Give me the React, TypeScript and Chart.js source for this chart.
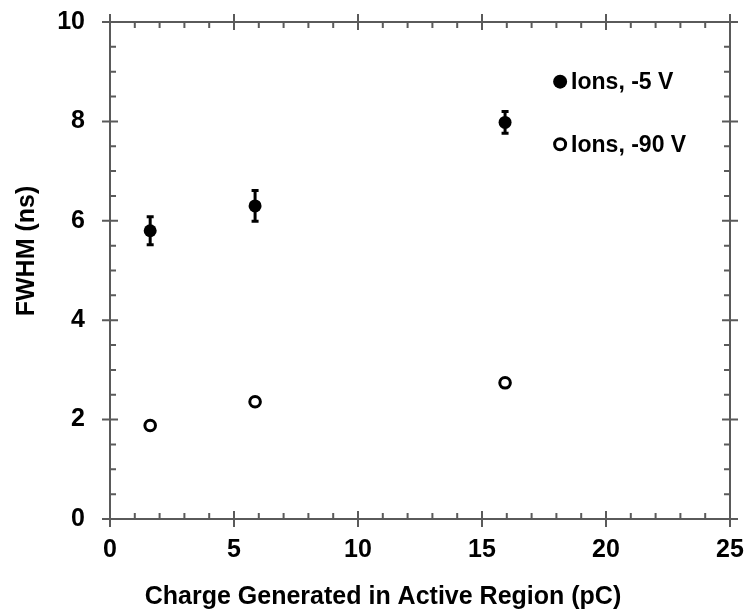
import React, { useEffect, useRef } from "react";
import { Chart, registerables } from "chart.js";

Chart.register(...registerables);

const chargeX = [1.62, 5.85, 15.93];
const fwhmMinus5 = [5.8, 6.3, 7.98];
const fwhmMinus5Err = [0.28, 0.31, 0.22];
const fwhmMinus90 = [1.88, 2.36, 2.74];
const seriesLabels = ["Ions, -5 V", "Ions, -90 V"];
const xTitle = "Charge Generated in Active Region (pC)";
const yTitle = "FWHM (ns)";

const FONT = "'Liberation Sans', Arial, sans-serif";
const AXIS_COLOR = "#5a5a5a";

const framePlugin = {
  id: "frameTicks",
  beforeDatasetsDraw(chart: any) {
    const { ctx, chartArea: a, scales } = chart;
    const xs = scales.x;
    const ys = scales.y;
    ctx.save();
    ctx.strokeStyle = AXIS_COLOR;
    ctx.lineWidth = 2;
    ctx.strokeRect(a.left, a.top, a.right - a.left, a.bottom - a.top);
    ctx.beginPath();
    const MAJ = 8;
    const MIN = 6;
    for (let v = 0; v <= 25; v += 1) {
      const px = xs.getPixelForValue(v);
      if (v % 5 === 0) {
        ctx.moveTo(px, a.bottom - MAJ);
        ctx.lineTo(px, a.bottom + MAJ);
        ctx.moveTo(px, a.top - MAJ);
        ctx.lineTo(px, a.top + MAJ);
      } else {
        ctx.moveTo(px, a.bottom);
        ctx.lineTo(px, a.bottom - MIN);
        ctx.moveTo(px, a.top);
        ctx.lineTo(px, a.top + MIN);
      }
    }
    for (let i = 0; i <= 20; i++) {
      const v = i * 0.5;
      const py = ys.getPixelForValue(v);
      if (i % 4 === 0) {
        ctx.moveTo(a.left - MAJ, py);
        ctx.lineTo(a.left + MAJ, py);
        ctx.moveTo(a.right - MAJ, py);
        ctx.lineTo(a.right + MAJ, py);
      } else {
        ctx.moveTo(a.left, py);
        ctx.lineTo(a.left + MIN, py);
        ctx.moveTo(a.right, py);
        ctx.lineTo(a.right - MIN, py);
      }
    }
    ctx.stroke();

    // error bars
    ctx.strokeStyle = "#000";
    ctx.lineWidth = 3;
    ctx.beginPath();
    chargeX.forEach((x, i) => {
      const px = xs.getPixelForValue(x);
      const top = ys.getPixelForValue(fwhmMinus5[i] + fwhmMinus5Err[i]);
      const bot = ys.getPixelForValue(fwhmMinus5[i] - fwhmMinus5Err[i]);
      ctx.moveTo(px, top);
      ctx.lineTo(px, bot);
      ctx.moveTo(px - 3.5, top);
      ctx.lineTo(px + 3.5, top);
      ctx.moveTo(px - 3.5, bot);
      ctx.lineTo(px + 3.5, bot);
    });
    ctx.stroke();
    ctx.restore();
  },
  afterDatasetsDraw(chart: any) {
    const { ctx, scales } = chart;
    const xs = scales.x;
    const ys = scales.y;
    ctx.save();
    ctx.font = `bold 23px ${FONT}`;
    ctx.fillStyle = "#000";
    ctx.textBaseline = "middle";
    ctx.textAlign = "left";
    const entries = [
      { y: 8.8, filled: true },
      { y: 7.54, filled: false },
    ];
    entries.forEach((e, i) => {
      const mx = xs.getPixelForValue(18.15);
      const my = ys.getPixelForValue(e.y);
      ctx.beginPath();
      if (e.filled) {
        ctx.arc(mx, my, 7, 0, Math.PI * 2);
        ctx.fillStyle = "#000";
        ctx.fill();
      } else {
        ctx.arc(mx, my, 5.5, 0, Math.PI * 2);
        ctx.lineWidth = 3;
        ctx.strokeStyle = "#000";
        ctx.stroke();
      }
      ctx.fillStyle = "#000";
      ctx.fillText(seriesLabels[i], mx + 11, my + 1);
    });

    // axis titles (offset from the plot centre as in the original)
    ctx.font = `bold 25px ${FONT}`;
    ctx.textAlign = "center";
    ctx.textBaseline = "alphabetic";
    ctx.fillText(xTitle, 383, 603.5);
    ctx.translate(33.5, 251);
    ctx.rotate(-Math.PI / 2);
    ctx.fillText(yTitle, 0, 0);
    ctx.restore();
  },
};

export default function App() {
  const ref = useRef<HTMLCanvasElement | null>(null);
  useEffect(() => {
    document.body.style.margin = "0";
    if (!ref.current) return;
    const chart = new Chart(ref.current, {
      type: "scatter",
      data: {
        datasets: [
          {
            label: seriesLabels[0],
            data: chargeX.map((x, i) => ({ x, y: fwhmMinus5[i] })),
            pointRadius: 6.5,
            pointBackgroundColor: "#000",
            pointBorderColor: "#000",
            pointBorderWidth: 0,
          },
          {
            label: seriesLabels[1],
            data: chargeX.map((x, i) => ({ x, y: fwhmMinus90[i] })),
            pointRadius: 5.3,
            pointBackgroundColor: "#fff",
            pointBorderColor: "#000",
            pointBorderWidth: 3,
          },
        ],
      },
      options: {
        animation: false,
        responsive: false,
        devicePixelRatio: 1,
        layout: { padding: { top: 22, right: 21, left: 0, bottom: 0 } },
        plugins: {
          legend: { display: false },
          tooltip: { enabled: false },
        },
        scales: {
          x: {
            type: "linear",
            min: 0,
            max: 25,
            grid: { display: false, drawTicks: false },
            border: { display: false },
            ticks: {
              stepSize: 5,
              color: "#000",
              padding: 16,
              font: { family: FONT, size: 25, weight: "bold" },
            },
            title: { display: false, text: xTitle },
            afterFit: (s: any) => {
              s.height = 95;
              s.paddingLeft = 0;
              s.paddingRight = 0;
            },
          },
          y: {
            type: "linear",
            min: 0,
            max: 10,
            grid: { display: false, drawTicks: false },
            border: { display: false },
            ticks: {
              stepSize: 2,
              color: "#000",
              padding: 25,
              font: { family: FONT, size: 25, weight: "bold" },
            },
            title: { display: false, text: yTitle },
            afterFit: (s: any) => {
              s.width = 110;
              s.paddingTop = 0;
              s.paddingBottom = 0;
            },
          },
        },
      },
      plugins: [framePlugin],
    });
    return () => chart.destroy();
  }, []);
  return (
    <div style={{ width: 751, height: 614, background: "#fff" }}>
      <canvas ref={ref} width={751} height={614} />
    </div>
  );
}
